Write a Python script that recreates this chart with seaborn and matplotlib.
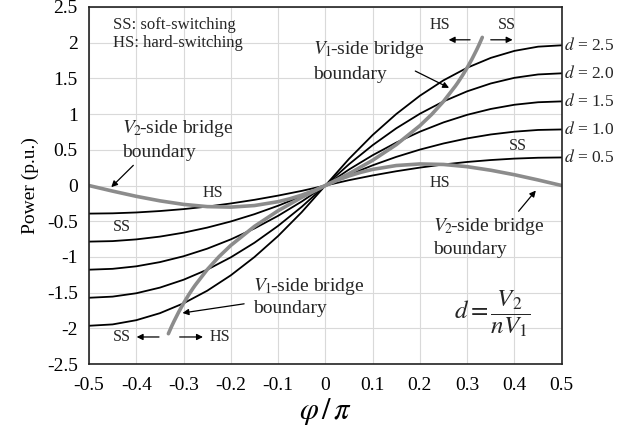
import numpy as np
import pandas as pd
import matplotlib
matplotlib.use("Agg")
import matplotlib.pyplot as plt
import seaborn as sns

# ---- data ----
phi = [-0.5, -0.45, -0.4, -0.35, -0.3, -0.25, -0.2, -0.15, -0.1, -0.05, 0.0,
       0.05, 0.1, 0.15, 0.2, 0.25, 0.3, 0.35, 0.4, 0.45, 0.5]
d_labels = ["0.5", "1.0", "1.5", "2.0", "2.5"]
p_d05 = [-0.393, -0.389, -0.377, -0.357, -0.330, -0.295, -0.251, -0.200, -0.141, -0.075, 0.0,
         0.075, 0.141, 0.200, 0.251, 0.295, 0.330, 0.357, 0.377, 0.389, 0.393]
p_d10 = [-0.785, -0.778, -0.754, -0.715, -0.660, -0.589, -0.503, -0.401, -0.283, -0.149, 0.0,
         0.149, 0.283, 0.401, 0.503, 0.589, 0.660, 0.715, 0.754, 0.778, 0.785]
p_d15 = [-1.178, -1.166, -1.131, -1.072, -0.990, -0.884, -0.754, -0.601, -0.424, -0.224, 0.0,
         0.224, 0.424, 0.601, 0.754, 0.884, 0.990, 1.072, 1.131, 1.166, 1.178]
p_d20 = [-1.571, -1.555, -1.508, -1.429, -1.319, -1.178, -1.005, -0.801, -0.565, -0.298, 0.0,
         0.298, 0.565, 0.801, 1.005, 1.178, 1.319, 1.429, 1.508, 1.555, 1.571]
p_d25 = [-1.963, -1.944, -1.885, -1.787, -1.649, -1.473, -1.257, -1.001, -0.707, -0.373, 0.0,
         0.373, 0.707, 1.001, 1.257, 1.473, 1.649, 1.787, 1.885, 1.944, 1.963]

v1b_phi = [-0.332, -0.325, -0.32, -0.31, -0.30, -0.29, -0.28, -0.275, -0.25, -0.225, -0.2, -0.15, -0.1, -0.05, 0.0,
           0.05, 0.1, 0.15, 0.2, 0.225, 0.25, 0.275, 0.28, 0.29, 0.30, 0.31, 0.32, 0.325, 0.332]
v1b_p = [-2.074, -1.969, -1.899, -1.768, -1.649, -1.540, -1.439, -1.392, -1.178, -0.996, -0.838, -0.572, -0.353, -0.166, 0.0,
         0.166, 0.353, 0.572, 0.838, 0.996, 1.178, 1.392, 1.439, 1.540, 1.649, 1.768, 1.899, 1.969, 2.074]

v2b_phi = [-0.5, -0.45, -0.4, -0.35, -0.3, -0.25, -0.2, -0.15, -0.1, -0.075, -0.05, -0.025, 0.0,
           0.025, 0.05, 0.075, 0.1, 0.15, 0.2, 0.25, 0.3, 0.35, 0.4, 0.45, 0.5]
v2b_p = [0.0, -0.078, -0.151, -0.214, -0.264, -0.295, -0.302, -0.280, -0.226, -0.185, -0.134, -0.073, 0.0,
         0.073, 0.134, 0.185, 0.226, 0.280, 0.302, 0.295, 0.264, 0.214, 0.151, 0.078, 0.0]

x_ticks = [-0.5, -0.4, -0.3, -0.2, -0.1, 0, 0.1, 0.2, 0.3, 0.4, 0.5]
x_ticklabels = ["-0.5", "-0.4", "-0.3", "-0.2", "-0.1", "0", "0.1", "0.2", "0.3", "0.4", "0.5"]
y_ticks = [-2.5, -2, -1.5, -1, -0.5, 0, 0.5, 1, 1.5, 2, 2.5]
y_ticklabels = ["-2.5", "-2", "-1.5", "-1", "-0.5", "0", "0.5", "1", "1.5", "2", "2.5"]

# ---- style ----
sns.set_theme(style="whitegrid")
plt.rcParams["font.family"] = ["Liberation Serif", "DejaVu Serif"]
plt.rcParams["mathtext.fontset"] = "stix"

fig = plt.figure(figsize=(6.2, 4.34), dpi=100)
ax = fig.add_axes([0.1435, 0.161, 0.7625, 0.823])

curves = [p_d05, p_d10, p_d15, p_d20, p_d25]
frames = []
for lab, vals in zip(d_labels, curves):
    frames.append(pd.DataFrame({"phi": phi, "P": vals, "d": lab}))
df = pd.concat(frames, ignore_index=True)
sns.lineplot(data=df, x="phi", y="P", units="d", estimator=None, color="black",
             linewidth=1.3, ax=ax, legend=False)

sns.lineplot(x=v2b_phi, y=v2b_p, color="#8c8c8c", linewidth=2.6, ax=ax,
             estimator=None, sort=False)
sns.lineplot(x=v1b_phi, y=v1b_p, color="#8c8c8c", linewidth=2.6, ax=ax,
             estimator=None, sort=False)

ax.set_xlim(-0.5, 0.5)
ax.set_ylim(-2.5, 2.5)
ax.set_xticks(x_ticks)
ax.set_xticklabels(x_ticklabels)
ax.set_yticks(y_ticks)
ax.set_yticklabels(y_ticklabels)
ax.tick_params(axis="both", labelsize=14, colors="black", length=0)
ax.tick_params(axis="x", pad=9)
ax.tick_params(axis="y", pad=8)
ax.grid(True, color="#d9d9d9", linewidth=0.8)
ax.set_facecolor("white")
for s in ax.spines.values():
    s.set_color("#222222")
    s.set_linewidth(1.2)

ax.set_ylabel("Power (p.u.)", fontsize=14, color="black", labelpad=6)
ax.set_xlabel(r"$\varphi\,/\,\pi$", fontsize=22, color="black", labelpad=2)

# d labels at the right
for lab, vals in zip(d_labels, curves):
    ax.text(0.505, vals[-1], r"$d$ = " + lab, fontsize=12.5, va="center", ha="left",
            clip_on=False)

ax.text(-0.449, 2.25, "SS: soft-switching", fontsize=12, va="center", ha="left")
ax.text(-0.449, 1.99, "HS: hard-switching", fontsize=12, va="center", ha="left")

ap = dict(arrowstyle="-|>", color="black", lw=0.9, mutation_scale=9)
fs_ann = 14
v1 = r"$V_1\!$-side bridge"
v2 = r"$V_2\!$-side bridge"

# V2-side boundary (upper left)
ax.text(-0.43, 0.80, v2, fontsize=fs_ann, va="center", ha="left")
ax.text(-0.43, 0.46, "boundary", fontsize=fs_ann, va="center", ha="left")
ax.annotate("", xy=(-0.457, -0.05), xytext=(-0.402, 0.31), arrowprops=ap)

# V1-side boundary (upper right)
ax.text(-0.026, 1.90, v1, fontsize=fs_ann, va="center", ha="left")
ax.text(-0.026, 1.56, "boundary", fontsize=fs_ann, va="center", ha="left")
ax.annotate("", xy=(0.267, 1.35), xytext=(0.185, 1.62), arrowprops=ap)

fs_s = 11.5
ax.text(0.242, 2.25, "HS", fontsize=fs_s, va="center", ha="center")
ax.text(0.384, 2.25, "SS", fontsize=fs_s, va="center", ha="center")
ax.annotate("", xy=(0.255, 2.04), xytext=(0.312, 2.04), arrowprops=ap)
ax.annotate("", xy=(0.402, 2.04), xytext=(0.344, 2.04), arrowprops=ap)

ax.text(0.407, 0.56, "SS", fontsize=fs_s, va="center", ha="center")
ax.text(0.242, 0.04, "HS", fontsize=fs_s, va="center", ha="center")
ax.text(-0.238, -0.10, "HS", fontsize=fs_s, va="center", ha="center")
ax.text(-0.43, -0.58, "SS", fontsize=fs_s, va="center", ha="center")

# bottom-left SS / HS
ax.text(-0.43, -2.12, "SS", fontsize=fs_s, va="center", ha="center")
ax.text(-0.223, -2.12, "HS", fontsize=fs_s, va="center", ha="center")
ax.annotate("", xy=(-0.405, -2.12), xytext=(-0.346, -2.12), arrowprops=ap)
ax.annotate("", xy=(-0.253, -2.12), xytext=(-0.314, -2.12), arrowprops=ap)

# V1-side boundary (lower)
ax.text(-0.153, -1.42, v1, fontsize=fs_ann, va="center", ha="left")
ax.text(-0.153, -1.72, "boundary", fontsize=fs_ann, va="center", ha="left")
ax.annotate("", xy=(-0.308, -1.79), xytext=(-0.166, -1.65), arrowprops=ap)

# V2-side boundary (lower right)
ax.text(0.227, -0.58, v2, fontsize=fs_ann, va="center", ha="left")
ax.text(0.227, -0.90, "boundary", fontsize=fs_ann, va="center", ha="left")
ax.annotate("", xy=(0.449, -0.04), xytext=(0.405, -0.39), arrowprops=ap)

ax.text(0.352, -1.79, r"$d=\dfrac{V_2}{nV_1}$", fontsize=18, va="center", ha="center")

fig.savefig("out.png", dpi=100, facecolor="white")
